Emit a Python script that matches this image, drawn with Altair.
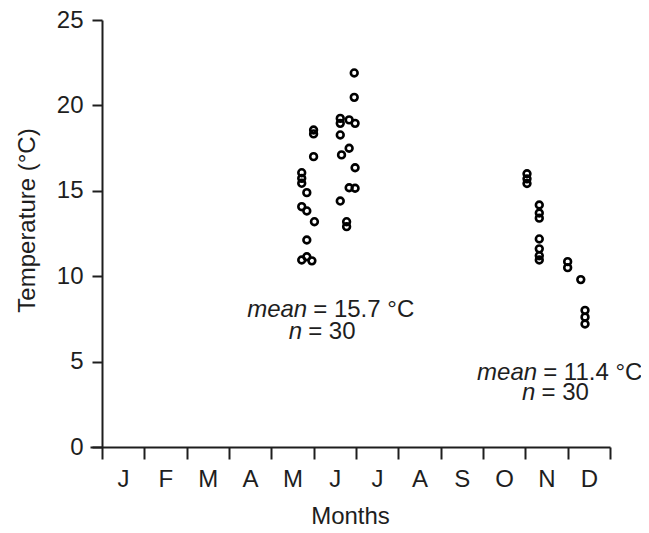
import altair as alt
import pandas as pd

months = ["J", "F", "M", "A", "M", "J", "J", "A", "S", "O", "N", "D"]

# x = position in months (0 = start of January), y = temperature (°C)
may_x = [5.0, 5.0, 5.0, 4.72, 4.72, 4.72, 4.84, 4.72, 4.84, 5.02, 4.84, 4.84, 4.72, 4.96]
may_y = [18.56, 18.33, 17.0, 16.06, 15.73, 15.44, 14.89, 14.07, 13.82, 13.19, 12.12, 11.14, 10.95, 10.9]

jun_x = [5.96, 5.96, 5.63, 5.84, 5.63, 5.98, 5.63, 5.84, 5.66, 5.98, 5.84, 5.98, 5.63, 5.78, 5.78]
jun_y = [21.9, 20.47, 19.24, 19.15, 18.95, 18.95, 18.27, 17.49, 17.1, 16.35, 15.18, 15.15, 14.4, 13.19, 12.9]

aut_x = [10.04, 10.04, 10.04, 10.33, 10.33, 10.33, 10.33, 10.33, 10.33, 10.33,
         11.0, 11.0, 11.31, 11.41, 11.41, 11.41]
aut_y = [16.0, 15.7, 15.43, 14.17, 13.7, 13.4, 12.18, 11.6, 11.2, 10.95,
         10.85, 10.5, 9.8, 8.0, 7.6, 7.2]

ann_x = [4.85, 4.73, 10.28, 10.24]
ann_y = [8.02, 6.76, 4.36, 3.16]
ann_italic = ["mean", "n", "mean", "n"]
ann_rest = ["= 15.7 °C", "= 30", "= 11.4 °C", "= 30"]

pts = pd.DataFrame({"month": may_x + jun_x + aut_x, "temp": may_y + jun_y + aut_y})
ann = pd.DataFrame({"month": ann_x, "temp": ann_y, "it": ann_italic, "rest": ann_rest})

FONT = "Liberation Sans"
INK = "#1e1e1e"
FS = 24

month_str = "".join(months)
xscale = alt.Scale(domain=[-0.28, 12], nice=False, zero=False)
yscale = alt.Scale(domain=[0, 25], nice=False)

# axis with the month boundary ticks and the title
tick_axis = alt.Axis(
    orient="bottom",
    values=list(range(0, 13)),
    labels=False,
    tickSize=12, tickWidth=2, domainWidth=2, domainColor=INK, tickColor=INK,
    grid=False,
    title="Months", titleFont=FONT, titleFontSize=FS, titleFontWeight="normal",
    titleColor=INK, titlePadding=44,
)
# axis with the month letters centred in each month
label_axis = alt.Axis(
    orient="bottom",
    values=[i + 0.5 for i in range(12)],
    labelExpr=f"substring('{month_str}', floor(datum.value), floor(datum.value) + 1)",
    ticks=False, domain=False, grid=False,
    labelFont=FONT, labelFontSize=FS, labelColor=INK, labelPadding=20,
    labelOverlap=False, labelFlush=False, title=None,
)
yaxis = alt.Axis(
    values=[0, 5, 10, 15, 20, 25],
    offset=-12,
    tickSize=10, tickWidth=2, domainWidth=2, domainColor=INK, tickColor=INK,
    labelFont=FONT, labelFontSize=FS, labelColor=INK, labelPadding=9,
    labelFlush=False, grid=False,
    title="Temperature (°C)", titleFont=FONT, titleFontSize=FS,
    titleFontWeight="normal", titleColor=INK,
    titleX=-75, titleY=200, titleBaseline="middle", titleAngle=270,
)

points = alt.Chart(pts).mark_point(
    shape="circle", filled=False, size=46, strokeWidth=2.6, color="black", opacity=1
).encode(
    x=alt.X("month:Q", scale=xscale, axis=tick_axis),
    y=alt.Y("temp:Q", scale=yscale, axis=yaxis),
)

italic = alt.Chart(ann).mark_text(
    align="right", baseline="middle", font=FONT, fontSize=FS, fontStyle="italic", color=INK
).encode(
    x=alt.X("month:Q", scale=xscale, axis=label_axis),
    y=alt.Y("temp:Q", scale=yscale),
    text="it:N",
)
rest = alt.Chart(ann).mark_text(
    align="left", baseline="middle", font=FONT, fontSize=FS, color=INK, dx=6
).encode(
    x=alt.X("month:Q", scale=xscale, axis=None),
    y=alt.Y("temp:Q", scale=yscale),
    text="rest:N",
)

chart = alt.layer(points, italic, rest).resolve_axis(x="independent").properties(
    width=520, height=427,
    autosize=alt.AutoSizeParams(type="none"),
    padding={"left": 82, "top": 12, "right": 31, "bottom": 78},
).configure_view(stroke=None)

chart.save("out.html", embed_options={"renderer": "svg", "actions": False})
